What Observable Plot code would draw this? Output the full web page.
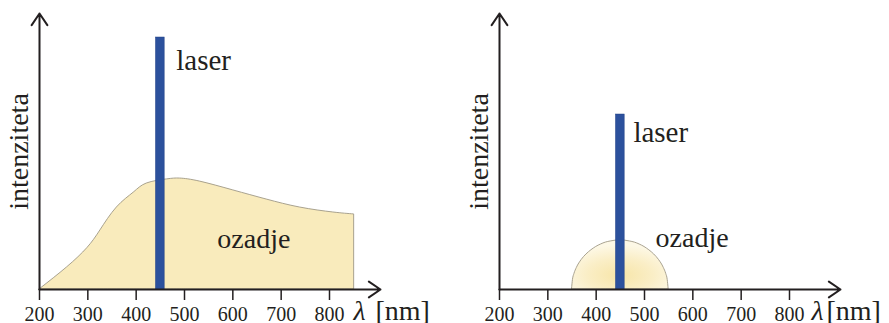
<!DOCTYPE html>
<html>
<head>
<meta charset="utf-8">
<script src="https://cdn.jsdelivr.net/npm/d3@7"></script>
<script src="https://cdn.jsdelivr.net/npm/@observablehq/plot@0.6"></script>
<style>
  html, body { margin: 0; padding: 0; background: #fff; }
  #wrap { display: flex; width: 889px; height: 323px; overflow: hidden; }
  #wrap svg, #wrap svg text { font-family: 'Liberation Serif', 'Times New Roman', Tinos, serif !important; }
</style>
</head>
<body>
<div id="wrap"></div>
<script>
// ---- data ----
const xTicks = [200, 300, 400, 500, 600, 700, 800];
const yLabel = "intenziteta";
const laserLabel = "laser";
const bgLabel = "ozadje";
const unitSymbol = "λ";
const unitText = "[nm]";

// left: broad background
const bgWavelength = [200, 257, 299, 326, 360, 395, 422, 464, 491, 532, 601, 670, 739, 808, 851];
const bgIntensity  = [0, 8, 15, 21.4, 29.7, 35.1, 38.4, 39.9, 40.2, 39.1, 35.9, 32.6, 29.7, 27.9, 27.2];

// right: small background bump
const bumpWavelength = [350, 352, 355, 360, 370, 380, 390, 400, 410, 420, 430, 440, 450, 460, 470, 480, 490, 500, 510, 520, 530, 540, 545, 548, 550];
const bumpIntensity  = [0, 3.5, 5.6, 7.8, 10.7, 12.7, 14.2, 15.4, 16.3, 17.0, 17.4, 17.7, 17.8, 17.7, 17.4, 17.0, 16.3, 15.4, 14.2, 12.7, 10.7, 7.8, 5.6, 3.5, 0];

// laser line
const laserFrom = 441;
const laserTo = 459;
const laserLeft = 91.3;
const laserRight = 63.4;

// label anchors (data coords)
const leftLabels  = {laser: [483, 79.5], bg: [568, 14.9], sym: 849.7, unit: 895};
const rightLabels = {laser: [477, 53.4], bg: [523, 15.3], sym: 845.5, unit: 876.5};

// ---- styles ----
const FONT = "'Liberation Serif', 'Times New Roman', Tinos, serif";
const TEXT = "#231f20";
const AXIS = "#231f20";
const LASER = "#2c519d";
const FILL = "#f9ebbc";
const EDGE = "#9f9886";

function panel({width, marginLeft, marginRight, bgX, bgY, laserY, labels, gradient}) {
  const bg = bgX.map((x, i) => ({x, y: bgY[i]}));
  const svg = Plot.plot({
    width, height: 323,
    marginLeft, marginRight, marginTop: 13, marginBottom: 34,
    x: {domain: [200, 800]},
    y: {domain: [0, 100], axis: null},
    style: {fontFamily: FONT, background: "white", overflow: "visible"},
    marks: [
      Plot.areaY(bg, {x: "x", y: "y", fill: gradient ? "url(#bumpGrad)" : FILL,
        stroke: EDGE, strokeWidth: 0.9, curve: gradient ? "monotone-x" : "natural"}),
      Plot.rectY([{a: laserFrom, b: laserTo, v: laserY}], {x1: "a", x2: "b", y1: 0, y2: "v", fill: LASER, stroke: "#1f3f85", strokeWidth: 0.5}),
      Plot.axisX({ticks: xTicks, tickSize: 11, tickPadding: 6, fontSize: 20,
        stroke: AXIS, strokeWidth: 1.5, fill: TEXT, label: null, fontFamily: FONT}),
      Plot.arrow([{x1: 200, y1: 0, x2: 905.5, y2: 0}], {x1: "x1", y1: "y1", x2: "x2", y2: "y2",
        stroke: AXIS, strokeWidth: 2, headLength: 10.5, headAngle: 68}),
      Plot.arrow([{x1: 200, y1: 0, x2: 200, y2: 100}], {x1: "x1", y1: "y1", x2: "x2", y2: "y2",
        stroke: AXIS, strokeWidth: 2, headLength: 10.5, headAngle: 68}),
      Plot.text([yLabel], {x: 200, y: 50, dx: -20, rotate: -90, text: d => d, fontFamily: FONT,
        fontSize: 28, fill: TEXT, textAnchor: "middle", lineAnchor: "middle"}),
      Plot.text([laserLabel], {x: labels.laser[0], y: labels.laser[1], text: d => d, fontFamily: FONT,
        fontSize: 29, fill: TEXT, textAnchor: "start", lineAnchor: "bottom"}),
      Plot.text([bgLabel], {x: labels.bg[0], y: labels.bg[1], text: d => d, fontFamily: FONT,
        fontSize: 28, fill: TEXT, textAnchor: "start", lineAnchor: "bottom"}),
      Plot.text([unitSymbol], {x: labels.sym, y: 0, dy: 30, text: d => d, fontFamily: FONT,
        fontSize: 28, fontStyle: "italic", fill: TEXT, textAnchor: "start", lineAnchor: "bottom"}),
      Plot.text([unitText], {x: labels.unit, y: 0, dy: 30, text: d => d, fontFamily: FONT,
        fontSize: 28, fill: TEXT, textAnchor: "start", lineAnchor: "bottom"})
    ]
  });
  if (gradient) {
    const ns = "http://www.w3.org/2000/svg";
    const defs = document.createElementNS(ns, "defs");
    defs.innerHTML = `<radialGradient id="bumpGrad" cx="0.5" cy="0.72" r="0.62">
      <stop offset="0" stop-color="#f7e5a8"/>
      <stop offset="0.55" stop-color="#faeec6"/>
      <stop offset="1" stop-color="#fdf8e6"/>
    </radialGradient>`;
    svg.insertBefore(defs, svg.firstChild);
  }
  return svg;
}

const wrap = document.getElementById("wrap");
wrap.appendChild(panel({width: 444, marginLeft: 39, marginRight: 115,
  bgX: bgWavelength, bgY: bgIntensity, laserY: laserLeft, labels: leftLabels, gradient: false}));
wrap.appendChild(panel({width: 445, marginLeft: 55, marginRight: 100,
  bgX: bumpWavelength, bgY: bumpIntensity, laserY: laserRight, labels: rightLabels, gradient: true}));
</script>
</body>
</html>
